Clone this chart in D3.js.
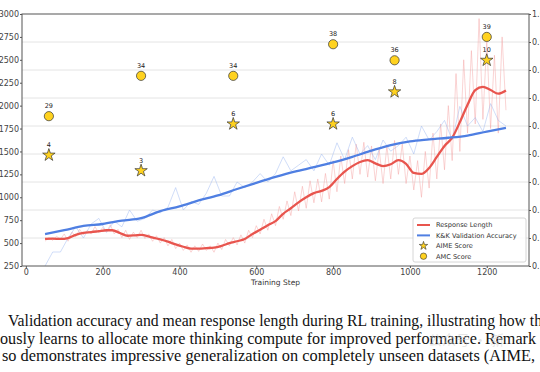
<!DOCTYPE html>
<html>
<head>
<meta charset="utf-8">
<script src="https://cdn.jsdelivr.net/npm/d3@7"></script>
<style>
  body { margin: 0; background: #fff; }
  svg { display: block; }
</style>
</head>
<body>
<svg id="chart" width="540" height="372"></svg>
<script>
// Response length, smoothed (left axis)
const lenSmoothSteps = [50, 70, 90, 110, 130, 150, 170, 190, 210, 225, 245, 265, 285, 300, 325, 350, 370, 390, 410, 430, 450, 470, 490, 510, 530, 550, 570, 590, 610, 630, 650, 670, 690, 710, 730, 750, 770, 790, 810, 830, 850, 870, 890, 910, 930, 950, 970, 990, 1010, 1030, 1050, 1070, 1090, 1110, 1130, 1150, 1170, 1190, 1210, 1230, 1250];
const lenSmooth = [545, 548, 545, 555, 590, 612, 620, 630, 640, 640, 610, 580, 585, 590, 565, 540, 515, 485, 460, 440, 440, 445, 450, 470, 500, 520, 545, 600, 645, 695, 740, 820, 880, 945, 1000, 1045, 1070, 1110, 1200, 1280, 1340, 1385, 1405, 1370, 1340, 1360, 1405, 1365, 1265, 1255, 1320, 1440, 1560, 1650, 1820, 2010, 2170, 2205, 2170, 2130, 2165];

// Response length, raw (every 10 steps from 50)
const lenRaw = [520, 560, 530, 575, 540, 600, 520, 620, 570, 650, 590, 640, 600, 680, 610, 670, 620, 700, 600, 650, 560, 640, 540, 620, 560, 640, 550, 600, 520, 580, 500, 560, 470, 540, 440, 500, 420, 480, 400, 470, 410, 490, 420, 470, 400, 500, 430, 540, 470, 560, 480, 590, 500, 640, 560, 690, 600, 760, 640, 820, 690, 900, 760, 960, 800, 1060, 850, 1120, 880, 1180, 940, 1200, 950, 1260, 980, 1400, 1060, 1450, 1150, 1520, 1200, 1580, 1250, 1600, 1220, 1560, 1180, 1520, 1150, 1560, 1200, 1620, 1250, 1580, 1150, 1450, 1080, 1400, 1000, 1500, 1100, 1700, 1200, 1800, 1300, 2000, 1400, 2350, 1500, 2500, 1700, 2600, 1800, 2950, 1850, 2700, 1750, 2550, 1700, 2750, 1950];

// K&K validation accuracy, smoothed (right axis)
const accSmoothSteps = [50, 100, 150, 200, 250, 300, 350, 400, 450, 500, 550, 600, 650, 700, 750, 800, 850, 900, 950, 1000, 1050, 1100, 1150, 1200, 1250];
const accSmooth = [0.214, 0.228, 0.243, 0.25, 0.262, 0.271, 0.296, 0.313, 0.334, 0.352, 0.375, 0.397, 0.418, 0.437, 0.453, 0.47, 0.49, 0.512, 0.532, 0.545, 0.552, 0.558, 0.566, 0.58, 0.593];

// K&K validation accuracy, raw (every 20 steps from 50)
const accRaw = [0.10, 0.15, 0.15, 0.20, 0.24, 0.20, 0.25, 0.27, 0.22, 0.26, 0.24, 0.30, 0.26, 0.27, 0.30, 0.29, 0.31, 0.38, 0.30, 0.33, 0.32, 0.36, 0.42, 0.35, 0.35, 0.40, 0.38, 0.40, 0.43, 0.40, 0.43, 0.49, 0.44, 0.46, 0.48, 0.44, 0.50, 0.46, 0.54, 0.48, 0.56, 0.50, 0.53, 0.48, 0.55, 0.51, 0.53, 0.56, 0.50, 0.60, 0.55, 0.58, 0.62, 0.55, 0.67, 0.60, 0.63, 0.58, 0.68, 0.62, 0.60];

// Benchmark scores (placed on left axis)
const scoreSteps = [60, 300, 540, 800, 960, 1200];
const aimePos = [1460, 1290, 1800, 1800, 2150, 2495];
const aimeLabels = ["4", "3", "6", "6", "8", "10"];
const amcPos = [1885, 2325, 2325, 2670, 2495, 2750];
const amcLabels = ["29", "34", "34", "38", "36", "39"];

const leftTicks = [250, 500, 750, 1000, 1250, 1500, 1750, 2000, 2250, 2500, 2750, 3000];
const rightTicks = [0.1, 0.2, 0.3, 0.4, 0.5, 0.6, 0.7, 0.8, 0.9, 1.0];
const xTicks = [0, 200, 400, 600, 800, 1000, 1200];

const caption = [
  "Validation accuracy and mean response length during RL training, illustrating how th",
  "ously learns to allocate more thinking compute for improved performance. Remark",
  "so demonstrates impressive generalization on completely unseen datasets (AIME,"
];

const colors = {
  red: "#e8554e",
  redRaw: "#f3a0a0",
  blue: "#4f7fe2",
  blueRaw: "#9db8f0",
  gold: "#ffd21f",
  grid: "#e4e4e4",
  axis: "#555"
};

const plot = { left: 22, right: 529, top: 14, bottom: 266 };

const svg = d3.select("#chart");
const font = "'DejaVu Sans', sans-serif";

const x = d3.scaleLinear().domain([-10, 1310]).range([plot.left, plot.right]);
const yL = d3.scaleLinear().domain([250, 3000]).range([plot.bottom, plot.top]);
const yR = d3.scaleLinear().domain([0.1, 1.0]).range([plot.bottom, plot.top]);

svg.append("defs").append("clipPath").attr("id", "clip")
  .append("rect")
    .attr("x", plot.left).attr("y", plot.top)
    .attr("width", plot.right - plot.left).attr("height", plot.bottom - plot.top);

// gridlines follow right axis
svg.append("g")
  .selectAll("line")
  .data(rightTicks.slice(1, -1))
  .join("line")
    .attr("x1", plot.left).attr("x2", plot.right)
    .attr("y1", d => yR(d)).attr("y2", d => yR(d))
    .attr("stroke", colors.grid).attr("stroke-width", 1);

const lines = svg.append("g").attr("clip-path", "url(#clip)");

const rawSteps10 = lenRaw.map((_, i) => 50 + i * 10);
const rawSteps20 = accRaw.map((_, i) => 50 + i * 20);

lines.append("path")
  .datum(d3.zip(rawSteps10, lenRaw))
  .attr("fill", "none")
  .attr("stroke", colors.redRaw)
  .attr("stroke-opacity", 0.5)
  .attr("stroke-width", 0.9)
  .attr("d", d3.line().x(d => x(d[0])).y(d => yL(d[1])));

lines.append("path")
  .datum(d3.zip(rawSteps20, accRaw))
  .attr("fill", "none")
  .attr("stroke", colors.blueRaw)
  .attr("stroke-opacity", 0.6)
  .attr("stroke-width", 0.8)
  .attr("d", d3.line().x(d => x(d[0])).y(d => yR(d[1])));

lines.append("path")
  .datum(d3.zip(lenSmoothSteps, lenSmooth))
  .attr("fill", "none")
  .attr("stroke", colors.red)
  .attr("stroke-width", 2.3)
  .attr("stroke-linejoin", "round")
  .attr("d", d3.line().curve(d3.curveMonotoneX).x(d => x(d[0])).y(d => yL(d[1])));

lines.append("path")
  .datum(d3.zip(accSmoothSteps, accSmooth))
  .attr("fill", "none")
  .attr("stroke", colors.blue)
  .attr("stroke-width", 2.3)
  .attr("stroke-linejoin", "round")
  .attr("d", d3.line().curve(d3.curveMonotoneX).x(d => x(d[0])).y(d => yR(d[1])));

// scores
const star = d3.symbol().type(d3.symbolStar).size(48);

svg.append("g")
  .selectAll("path")
  .data(d3.zip(scoreSteps, aimePos))
  .join("path")
    .attr("d", star)
    .attr("transform", d => `translate(${x(d[0])},${yL(d[1])})`)
    .attr("fill", colors.gold)
    .attr("stroke", "#333")
    .attr("stroke-width", 0.7);

svg.append("g")
  .selectAll("circle")
  .data(d3.zip(scoreSteps, amcPos))
  .join("circle")
    .attr("cx", d => x(d[0]))
    .attr("cy", d => yL(d[1]))
    .attr("r", 4.6)
    .attr("fill", colors.gold)
    .attr("stroke", "#333")
    .attr("stroke-width", 0.7);

const scoreText = (pos, labels, dy) => svg.append("g")
  .selectAll("text")
  .data(d3.zip(scoreSteps, pos, labels))
  .join("text")
    .attr("x", d => x(d[0]))
    .attr("y", d => yL(d[1]) - dy)
    .attr("text-anchor", "middle")
    .attr("font-family", font)
    .attr("font-size", 6.5)
    .attr("fill", "#222")
    .text(d => d[2]);

scoreText(aimePos, aimeLabels, 8);
scoreText(amcPos, amcLabels, 8);

// frame
svg.append("rect")
  .attr("x", plot.left).attr("y", plot.top)
  .attr("width", plot.right - plot.left).attr("height", plot.bottom - plot.top)
  .attr("fill", "none")
  .attr("stroke", colors.axis)
  .attr("stroke-width", 1);

// axes
const axL = svg.append("g")
  .attr("transform", `translate(${plot.left},0)`)
  .call(d3.axisLeft(yL).tickValues(leftTicks).tickSize(2).tickPadding(1).tickFormat(d3.format("d")));
const axR = svg.append("g")
  .attr("transform", `translate(${plot.right},0)`)
  .call(d3.axisRight(yR).tickValues(rightTicks).tickSize(2).tickPadding(1).tickFormat(d3.format(".1f")));
const axB = svg.append("g")
  .attr("transform", `translate(0,${plot.bottom})`)
  .call(d3.axisBottom(x).tickValues(xTicks).tickSize(2).tickPadding(1).tickFormat(d3.format("d")));

[axL, axR, axB].forEach(a => {
  a.select(".domain").remove();
  a.selectAll("line").attr("stroke", colors.axis);
  a.selectAll("text")
    .attr("font-family", font)
    .attr("font-size", 8)
    .attr("fill", "#444");
});

svg.append("text")
  .attr("x", (plot.left + plot.right) / 2)
  .attr("y", 285)
  .attr("text-anchor", "middle")
  .attr("font-family", font)
  .attr("font-size", 7.5)
  .attr("fill", "#333")
  .text("Training Step");

// legend
const lg = svg.append("g").attr("transform", "translate(413,218)");
lg.append("rect")
  .attr("width", 113).attr("height", 44)
  .attr("rx", 2)
  .attr("fill", "#fff").attr("fill-opacity", 0.85)
  .attr("stroke", "#ccc").attr("stroke-width", 0.8);

const legendItems = [
  { label: "Response Length", kind: "line", color: colors.red },
  { label: "K&K Validation Accuracy", kind: "line", color: colors.blue },
  { label: "AIME Score", kind: "star" },
  { label: "AMC Score", kind: "circle" }
];

legendItems.forEach((it, i) => {
  const yy = 7 + i * 10.4;
  if (it.kind === "line") {
    lg.append("line")
      .attr("x1", 4).attr("x2", 17).attr("y1", yy).attr("y2", yy)
      .attr("stroke", it.color).attr("stroke-width", 2);
  } else if (it.kind === "star") {
    lg.append("path")
      .attr("d", d3.symbol().type(d3.symbolStar).size(22))
      .attr("transform", `translate(10.5,${yy})`)
      .attr("fill", colors.gold).attr("stroke", "#333").attr("stroke-width", 0.6);
  } else {
    lg.append("circle")
      .attr("cx", 10.5).attr("cy", yy).attr("r", 3.2)
      .attr("fill", colors.gold).attr("stroke", "#333").attr("stroke-width", 0.6);
  }
  lg.append("text")
    .attr("x", 23).attr("y", yy)
    .attr("dy", "0.35em")
    .attr("font-family", font)
    .attr("font-size", 6.6)
    .attr("fill", "#333")
    .text(it.label);
});

// caption below the figure
svg.append("g")
  .selectAll("text")
  .data(caption)
  .join("text")
    .attr("x", (d, i) => [8, 0, 2][i])
    .attr("y", (d, i) => 326 + i * 17.6)
    .attr("font-family", "'Liberation Serif', serif")
    .attr("font-size", 16)
    .attr("textLength", (d, i) => [534, 536, 533][i])
    .attr("lengthAdjust", "spacingAndGlyphs")
    .attr("fill", "#111")
    .text(d => d);

svg.append("text")
  .attr("x", 428).attr("y", 345)
  .attr("font-family", "'Noto Sans CJK SC', sans-serif")
  .attr("font-size", 14)
  .attr("fill", "#ccc")
  .attr("fill-opacity", 0.5)
  .text("公众号 · 新");
</script>
</body>
</html>
